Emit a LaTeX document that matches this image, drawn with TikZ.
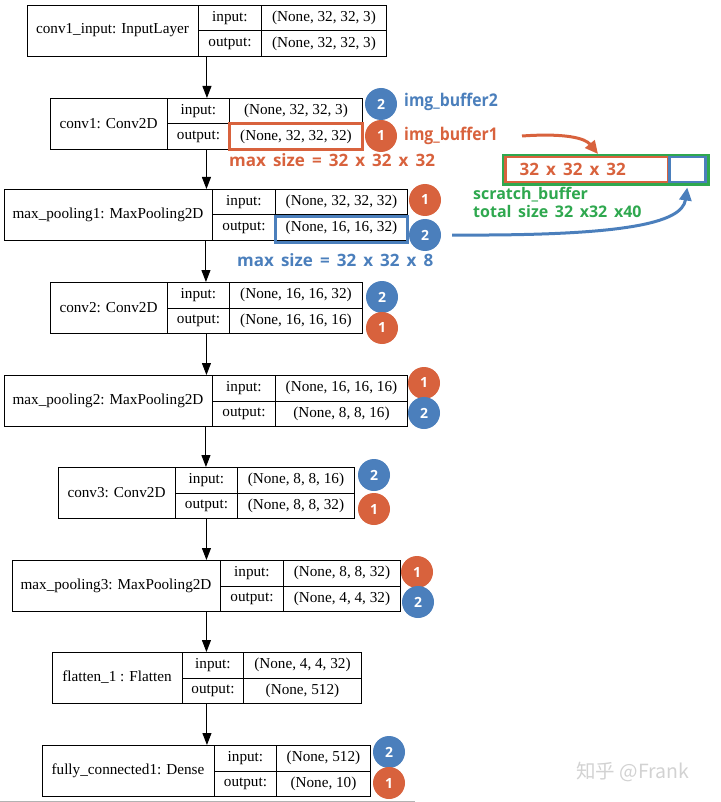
\documentclass[tikz,border=0pt]{standalone}
\usepackage{fontspec}
\setmainfont{Liberation Serif}
\newfontfamily\annofont{Open Sans}[WordSpace=1.6]
\newfontfamily\annonarrow{Open Sans}[FakeStretch=0.9]
\newfontfamily\cjkfont{Noto Sans CJK SC}
\usetikzlibrary{arrows.meta}

\definecolor{bufone}{HTML}{D8623D}
\definecolor{buftwo}{HTML}{4B7FBC}
\definecolor{scratchgreen}{HTML}{2FA84F}

\tikzset{
  layerbox/.style={draw, line width=0.9pt, anchor=north west, inner sep=0pt, minimum height=51},
  cell/.style={draw, line width=0.9pt, anchor=north west, inner sep=0pt, minimum height=25.5, font=\fontsize{15.2}{18}\selectfont},
  layername/.style={inner sep=0pt, font=\fontsize{15.2}{18}\selectfont},
  flow/.style={line width=1pt, -{Triangle[length=12pt,width=9pt]}},
  badge/.style={circle, inner sep=0pt, minimum size=32, text=white, font=\annofont\bfseries\fontsize{14}{14}\selectfont},
  badgeone/.style={badge, fill=bufone},
  badgetwo/.style={badge, fill=buftwo},
  anno/.style={inner sep=0pt, font=\annofont\bfseries\fontsize{17}{18}\selectfont},
  bufname/.style={inner sep=0pt, font=\annonarrow\bfseries\fontsize{17.5}{18}\selectfont},
}

\begin{document}
\begin{tikzpicture}[x=1pt,y=-1pt]
\useasboundingbox (0,0) rectangle (720,802);

% conv1_input
\node[layerbox, minimum width=359] (input) at (27,5) {};
\node[layername] (inputname) at (112.5,30.5) {conv1\_input: InputLayer};
\node[cell, minimum width=63] (inputik) at (198,5) {input:};
\node[cell, minimum width=125] (inputiv) at (261,5) {(None, 32, 32, 3)};
\node[cell, minimum width=63] (inputok) at (198,30.5) {output:};
\node[cell, minimum width=125] (inputov) at (261,30.5) {(None, 32, 32, 3)};

% conv1
\node[layerbox, minimum width=312] (conv1) at (50,98) {};
\node[layername] (conv1name) at (108.5,123.5) {conv1: Conv2D};
\node[cell, minimum width=62] (conv1ik) at (167,98) {input:};
\node[cell, minimum width=133] (conv1iv) at (229,98) {(None, 32, 32, 3)};
\node[cell, minimum width=62] (conv1ok) at (167,123.5) {output:};
\node[cell, minimum width=133] (conv1ov) at (229,123.5) {(None, 32, 32, 32)};
\node[badgetwo] (conv1b2) at (381,104) {2};
\node[badgeone] (conv1b1) at (381,136) {1};

% max_pooling1
\node[layerbox, minimum width=403] (mp1) at (4,189) {};
\node[layername] (mp1name) at (108,214.5) {max\_pooling1: MaxPooling2D};
\node[cell, minimum width=63] (mp1ik) at (212,189) {input:};
\node[cell, minimum width=132] (mp1iv) at (275,189) {(None, 32, 32, 32)};
\node[cell, minimum width=63] (mp1ok) at (212,214.5) {output:};
\node[cell, minimum width=132] (mp1ov) at (275,214.5) {(None, 16, 16, 32)};
\node[badgeone] (mp1b1) at (425,200) {1};
\node[badgetwo] (mp1b2) at (425,235) {2};

% conv2
\node[layerbox, minimum width=312] (conv2) at (50,282) {};
\node[layername] (conv2name) at (108.5,307.5) {conv2: Conv2D};
\node[cell, minimum width=62] (conv2ik) at (167,282) {input:};
\node[cell, minimum width=133] (conv2iv) at (229,282) {(None, 16, 16, 32)};
\node[cell, minimum width=62] (conv2ok) at (167,307.5) {output:};
\node[cell, minimum width=133] (conv2ov) at (229,307.5) {(None, 16, 16, 16)};
\node[badgetwo] (conv2b2) at (382,297) {2};
\node[badgeone] (conv2b1) at (382,328) {1};

% max_pooling2
\node[layerbox, minimum width=403] (mp2) at (4,375) {};
\node[layername] (mp2name) at (108,400.5) {max\_pooling2: MaxPooling2D};
\node[cell, minimum width=63] (mp2ik) at (212,375) {input:};
\node[cell, minimum width=132] (mp2iv) at (275,375) {(None, 16, 16, 16)};
\node[cell, minimum width=63] (mp2ok) at (212,400.5) {output:};
\node[cell, minimum width=132] (mp2ov) at (275,400.5) {(None, 8, 8, 16)};
\node[badgeone] (mp2b1) at (424,383) {1};
\node[badgetwo] (mp2b2) at (424,413) {2};

% conv3
\node[layerbox, minimum width=296] (conv3) at (58,467) {};
\node[layername] (conv3name) at (116.5,492.5) {conv3: Conv2D};
\node[cell, minimum width=62] (conv3ik) at (175,467) {input:};
\node[cell, minimum width=117] (conv3iv) at (237,467) {(None, 8, 8, 16)};
\node[cell, minimum width=62] (conv3ok) at (175,492.5) {output:};
\node[cell, minimum width=117] (conv3ov) at (237,492.5) {(None, 8, 8, 32)};
\node[badgetwo] (conv3b2) at (374,475) {2};
\node[badgeone] (conv3b1) at (374,509) {1};

% max_pooling3
\node[layerbox, minimum width=388] (mp3) at (12,560) {};
\node[layername] (mp3name) at (116,585.5) {max\_pooling3: MaxPooling2D};
\node[cell, minimum width=63] (mp3ik) at (220,560) {input:};
\node[cell, minimum width=117] (mp3iv) at (283,560) {(None, 8, 8, 32)};
\node[cell, minimum width=63] (mp3ok) at (220,585.5) {output:};
\node[cell, minimum width=117] (mp3ov) at (283,585.5) {(None, 4, 4, 32)};
\node[badgeone] (mp3b1) at (417,572) {1};
\node[badgetwo] (mp3b2) at (418,602) {2};

% flatten_1
\node[layerbox, minimum width=309] (flat) at (52,652) {};
\node[layername] (flatname) at (117,677.5) {flatten\_1 : Flatten};
\node[cell, minimum width=61] (flatik) at (182,652) {input:};
\node[cell, minimum width=118] (flativ) at (243,652) {(None, 4, 4, 32)};
\node[cell, minimum width=61] (flatok) at (182,677.5) {output:};
\node[cell, minimum width=118] (flatov) at (243,677.5) {(None, 512)};

% fully_connected1
\node[layerbox, minimum width=328] (dense) at (42,745) {};
\node[layername] (densename) at (128,770.5) {fully\_connected1: Dense};
\node[cell, minimum width=62] (denseik) at (214,745) {input:};
\node[cell, minimum width=94] (denseiv) at (276,745) {(None, 512)};
\node[cell, minimum width=62] (denseok) at (214,770.5) {output:};
\node[cell, minimum width=94] (denseov) at (276,770.5) {(None, 10)};
\node[badgetwo] (denseb2) at (389,752) {2};
\node[badgeone] (denseb1) at (389,783) {1};

% layer to layer
\draw[flow] (input.south) -- (input.south |- conv1.north);
\draw[flow] (conv1.south) -- (conv1.south |- mp1.north);
\draw[flow] (mp1.south) -- (mp1.south |- conv2.north);
\draw[flow] (conv2.south) -- (conv2.south |- mp2.north);
\draw[flow] (mp2.south) -- (mp2.south |- conv3.north);
\draw[flow] (conv3.south) -- (conv3.south |- mp3.north);
\draw[flow] (mp3.south) -- (mp3.south |- flat.north);
\draw[flow] (flat.south) -- (flat.south |- dense.north);

% buffers
\draw[bufone, line width=3pt] (conv1ov.north west) rectangle (conv1ov.south east);
\draw[buftwo, line width=3pt] ([yshift=-2]mp1ov.north west) rectangle ([yshift=-2]mp1ov.south east);
\node[bufname, text=buftwo, anchor=west] (imgtwo) at (404,102) {img\_buffer2};
\node[bufname, text=bufone, anchor=west] (imgone) at (404,136) {img\_buffer1};
\node[anno, text=bufone, anchor=west] (maxone) at (229,160) {max size = 32 x 32 x 32};
\node[anno, text=buftwo, anchor=west] (maxtwo) at (237,260) {max size = 32 x 32 x 8};

\node[draw=scratchgreen, line width=3pt, anchor=north west, minimum width=205, minimum height=29] (scratch) at (502,154) {};
\node[draw=bufone, line width=2.5pt, anchor=north west, minimum width=163, minimum height=25, anno, text=bufone] (bufa) at (504,156) {32 x 32 x 32\hspace*{28pt}};
\node[draw=buftwo, line width=2.5pt, anchor=north west, minimum width=36, minimum height=25] (bufb) at (668,156) {};
\node[inner sep=0pt, font=\annofont\bfseries\fontsize{16}{18}\selectfont, text=scratchgreen, anchor=north west, align=left] (scratchtxt) at (473,187) {scratch\_buffer\\total size 32 x32 x40};

\draw[bufone, line width=3pt, -{Triangle[length=13pt,width=12pt]}] ([xshift=24]imgone.east) .. controls (565,133) and (585,138) .. ([xshift=-8]scratch.north);
\draw[buftwo, line width=3pt, -{Triangle[length=13pt,width=12pt]}] ([xshift=11]mp1b2.east) .. controls (620,236) and (682,224) .. ([yshift=-4]bufb.south);

% watermark
\node[text=gray!35, font=\cjkfont\fontsize{19.5}{20}\selectfont, anchor=west, inner sep=0pt] (mark) at (576,772) {知乎 @Frank};
\draw[gray!60, line width=1pt] (0,801) -- (415,801);
\end{tikzpicture}
\end{document}
